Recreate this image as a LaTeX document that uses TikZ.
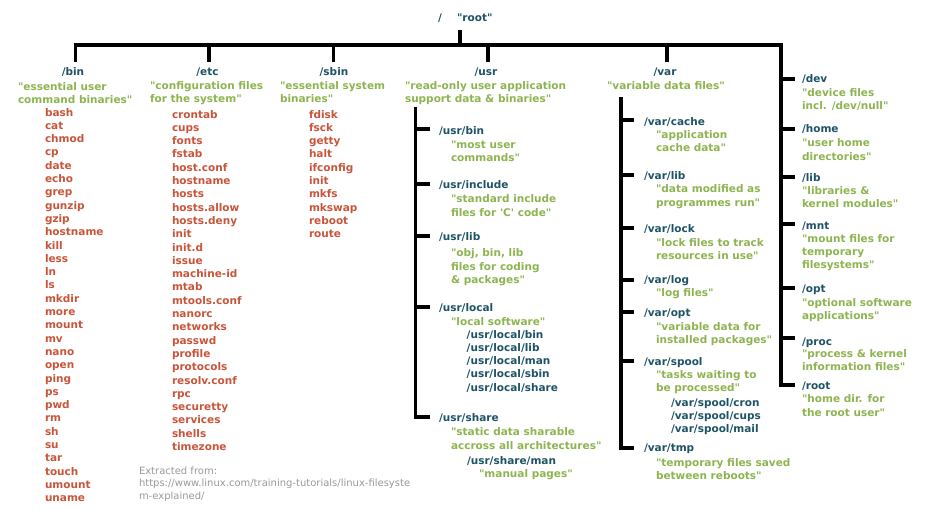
\documentclass[tikz,border=0pt]{standalone}
\usepackage{fontspec}
\setmainfont{DejaVu Sans}[Ligatures=TeXOff]
\definecolor{dirc}{HTML}{1E5366}
\definecolor{descc}{HTML}{8DB450}
\definecolor{itemc}{HTML}{C8553A}
\definecolor{srcc}{HTML}{999999}
\begin{document}
\begin{tikzpicture}[x=1pt,y=-1pt,
  every node/.style={inner sep=0pt, outer sep=0pt, anchor=base west, align=left,
    font=\fontsize{10.5}{13.3}\selectfont\bfseries},
  nlines/.style={yshift={-13.3pt*(#1-1)}},
  dir/.style={text=dirc},
  dirc/.style={text=dirc, anchor=base},
  desc/.style={text=descc},
  item/.style={text=itemc},
  src/.style={text=srcc, font=\fontsize{10}{12.7}\selectfont\mdseries},
  tree/.style={line width=3.8pt, line cap=butt, line join=miter, draw=black}]
\path[use as bounding box] (0,0) rectangle (929,511);

% ---------- root ----------
\node[dirc] (slash) at (440,22) {/};
\node[dir] (root) at (457,22) {"root"};

% ---------- top level tree ----------
\coordinate (rootstem) at (460,30);
\coordinate (rootbar) at (460,45);
\coordinate (binstem) at (75.5,62);
\coordinate (corner) at (781,45);
\coordinate (rootdir) at (795,385);
\draw[tree] (binstem) |- (corner) |- (rootdir);
\draw[tree] (rootstem) -- (rootbar);
\foreach \n/\x in {etcstem/209, sbinstem/333.5, usrstem/487.7, varstem/666.7}{
  \coordinate (\n) at (\x,62);
  \draw[tree] (\n) -- (\n |- corner);
}

% ---------- /bin ----------
\node[dirc] (bin) at (73,76) {/bin};
\node[desc, nlines=2] (bindesc) at (18,90) {"essential user\\command binaries"};
\node[item, nlines=30] (binlist) at (45,116) {bash\\cat\\chmod\\cp\\date\\echo\\grep\\gunzip\\gzip\\hostname\\kill\\less\\ln\\ls\\mkdir\\more\\mount\\mv\\nano\\open\\ping\\ps\\pwd\\rm\\sh\\su\\tar\\touch\\umount\\uname};

% ---------- /etc ----------
\node[dirc] (etc) at (207.5,76) {/etc};
\node[desc, nlines=2] (etcdesc) at (150,89) {"configuration files\\for the system"};
\node[item, nlines=26] (etclist) at (172,118) {crontab\\cups\\fonts\\fstab\\host.conf\\hostname\\hosts\\hosts.allow\\hosts.deny\\init\\init.d\\issue\\machine-id\\mtab\\mtools.conf\\nanorc\\networks\\passwd\\profile\\protocols\\resolv.conf\\rpc\\securetty\\services\\shells\\timezone};

% ---------- /sbin ----------
\node[dirc] (sbin) at (334,76) {/sbin};
\node[desc, nlines=2] (sbindesc) at (280,89) {"essential system\\binaries"};
\node[item, nlines=10] (sbinlist) at (309,118) {fdisk\\fsck\\getty\\halt\\ifconfig\\init\\mkfs\\mkswap\\reboot\\route};

% ---------- /usr ----------
\node[dirc] (usr) at (486,76) {/usr};
\node[desc, nlines=2] (usrdesc) at (405,89) {"read-only user application\\support data \& binaries"};
\node[dir] (usrbin) at (439,134) {/usr/bin};
\node[desc, nlines=2] (usrbind) at (451,148) {"most user\\commands"};
\node[dir] (usrinc) at (439,188) {/usr/include};
\node[desc, nlines=2] (usrincd) at (451,202.7) {"standard include\\files for 'C' code"};
\node[dir] (usrlib) at (439,240) {/usr/lib};
\node[desc, nlines=3] (usrlibd) at (451,256.7) {"obj, bin, lib\\files for coding\\\& packages"};
\node[dir] (usrlocal) at (439,311.7) {/usr/local};
\node[desc] (usrlocald) at (451,325.7) {"local software"};
\node[dir, nlines=5] (usrlocall) at (466.7,338) {/usr/local/bin\\/usr/local/lib\\/usr/local/man\\/usr/local/sbin\\/usr/local/share};
\node[dir] (usrshare) at (439,421.7) {/usr/share};
\node[desc, nlines=2] (usrshared) at (451,435.7) {"static data sharable\\accross all architectures"};
\node[dir] (usrsman) at (467,464) {/usr/share/man};
\node[desc] (usrsmand) at (479,477.3) {"manual pages"};

\coordinate (usrtop) at (415.5,107);
\coordinate (usrend) at (430,417);
\draw[tree] (usrtop) |- (usrend);
\foreach \n/\y in {ubin/129.3, uinc/184, ulib/236, uloc/307}{
  \coordinate (\n) at (430,\y);
  \draw[tree] (\n -| usrtop) -- (\n);
}

% ---------- /var ----------
\node[dirc] (var) at (665,76) {/var};
\node[desc] (vardesc) at (607,89) {"variable data files"};
\node[dir] (vcache) at (644,125) {/var/cache};
\node[desc, nlines=2] (vcached) at (656,138.3) {"application\\cache data"};
\node[dir] (vlib) at (644,179) {/var/lib};
\node[desc, nlines=2] (vlibd) at (656,192.7) {"data modified as\\programmes run"};
\node[dir] (vlock) at (644,232.3) {/var/lock};
\node[desc, nlines=2] (vlockd) at (656,246) {"lock files to track\\resources in use"};
\node[dir] (vlog) at (644,283.3) {/var/log};
\node[desc] (vlogd) at (656,296.7) {"log files"};
\node[dir] (vopt) at (644,316) {/var/opt};
\node[desc, nlines=2] (voptd) at (656,330) {"variable data for\\installed packages"};
\node[dir] (vspool) at (644,365) {/var/spool};
\node[desc, nlines=2] (vspoold) at (656,378.3) {"tasks waiting to\\be processed"};
\node[dir, nlines=3] (vspooll) at (671,406) {/var/spool/cron\\/var/spool/cups\\/var/spool/mail};
\node[dir] (vtmp) at (644,451.7) {/var/tmp};
\node[desc, nlines=2] (vtmpd) at (656,466) {"temporary files saved\\between reboots"};

\coordinate (vartop) at (620.7,97);
\coordinate (varend) at (634,448);
\draw[tree] (vartop) |- (varend);
\foreach \n/\y in {vt1/120, vt2/175, vt3/228, vt4/280, vt5/312, vt6/360.7}{
  \coordinate (\n) at (634,\y);
  \draw[tree] (\n -| vartop) -- (\n);
}

% ---------- right column ----------
\node[dir] (dev) at (802,82.7) {/dev};
\node[desc, nlines=2] (devd) at (802,96.7) {"device files\\incl. /dev/null"};
\node[dir] (home) at (802,132.3) {/home};
\node[desc, nlines=2] (homed) at (802,146.7) {"user home\\directories"};
\node[dir] (lib) at (802,181) {/lib};
\node[desc, nlines=2] (libd) at (802,194.3) {"libraries \&\\kernel modules"};
\node[dir] (mnt) at (802,229) {/mnt};
\node[desc, nlines=3] (mntd) at (802,242.3) {"mount files for\\temporary\\filesystems"};
\node[dir] (opt) at (802,292.3) {/opt};
\node[desc, nlines=2] (optd) at (802,306) {"optional software\\applications"};
\node[dir] (proc) at (802,345) {/proc};
\node[desc, nlines=2] (procd) at (802,357.3) {"process \& kernel\\information files"};
\node[dir] (rootd) at (802,389.3) {/root};
\node[desc, nlines=2] (rootdd) at (802,402.7) {"home dir. for\\the root user"};

\foreach \n/\y in {rt1/79.3, rt2/129, rt3/176.7, rt4/224.3, rt5/288.3, rt6/338.3}{
  \coordinate (\n) at (795,\y);
  \draw[tree] (\n -| corner) -- (\n);
}

% ---------- source ----------
\node[src] (source) at (139,{474+2*12.7}) {Extracted from:\\https://www.linux.com/training-tutorials/linux-filesyste\\m-explained/};
\end{tikzpicture}
\end{document}
